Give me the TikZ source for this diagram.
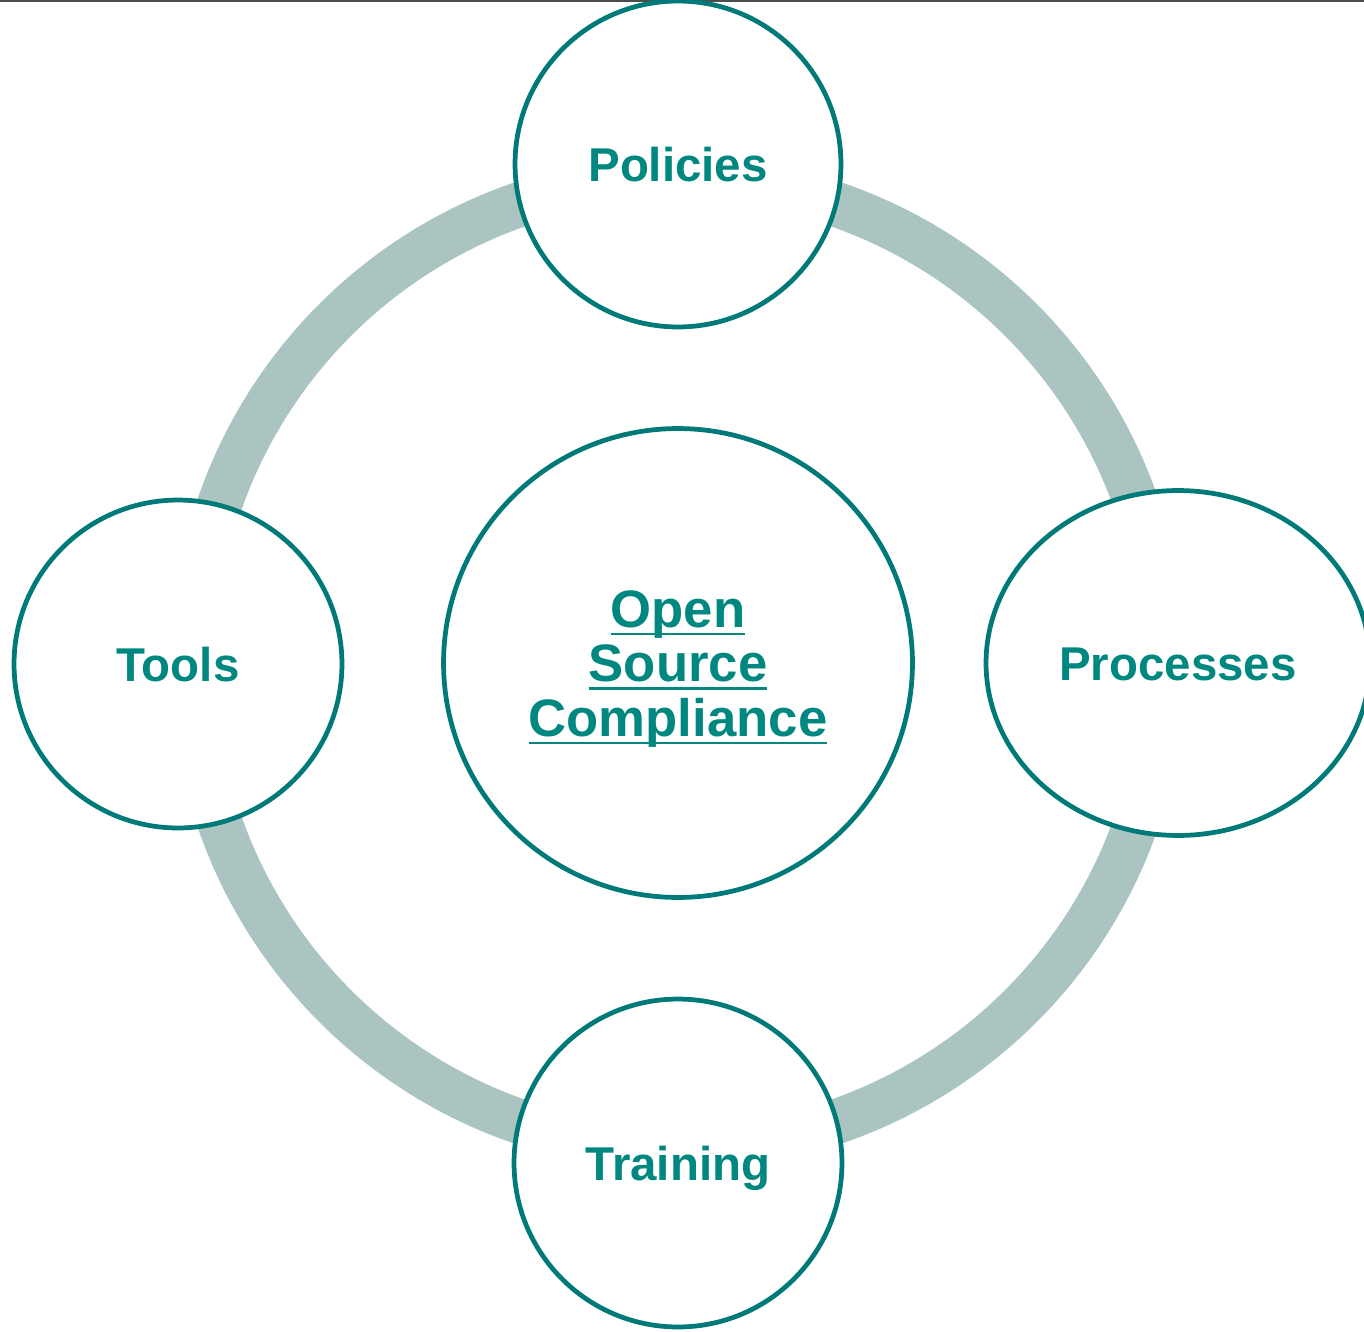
\documentclass[tikz,border=0pt]{standalone}
\usepackage{fontspec}
\setmainfont{Liberation Sans}
\usetikzlibrary{shapes.geometric}
\definecolor{tealline}{RGB}{0,122,120}
\definecolor{tealtext}{RGB}{0,135,128}
\definecolor{ringgray}{RGB}{170,196,194}
\newcommand\myul[1]{\setbox0\hbox{#1}\rlap{\rule[-4.6pt]{\wd0}{1.6pt}}\box0}
\tikzset{
  petal/.style={circle, draw=tealline, line width=2.7pt, fill=white, text=tealtext,
    font=\fontsize{27}{30}\selectfont\bfseries, text height=19.4pt, text depth=0pt, inner sep=0pt},
  hub/.style={circle, draw=tealline, line width=2.7pt, fill=white, text=tealtext,
    font=\fontsize{30}{31}\selectfont\bfseries, align=center, inner sep=0pt},
  ring/.style={draw=ringgray, line width=0.9cm}
}
\begin{document}
\begin{tikzpicture}[x=0.02cm,y=-0.02cm]
\useasboundingbox (0,0) rectangle (1364,1331);
\clip (0,0) rectangle (1364,1331);
\fill[white] (0,0) rectangle (1364,1331);
\coordinate (topL) at (0,1);
\coordinate (topR) at (1364,1);
\draw[line width=1.2pt, draw=black!70] (topL) -- (topR);
\coordinate (mid) at (678,663);
\draw[ring] (mid) circle (485);
\node[hub, minimum size=9.38cm] (center) at (678,663) {\rule{0pt}{27.6pt}\myul{Open}\\\myul{Source}\\\myul{Compliance}};
\node[petal, minimum size=6.52cm] (policies) at (678,164) {Policies};
\node[petal, minimum size=6.56cm] (tools) at (178,664) {Tools};
\node[petal, minimum size=6.56cm] (training) at (678,1163) {Training};
\node[petal, ellipse, minimum width=7.68cm, minimum height=6.9cm] (processes) at (1178,663) {Processes};
\end{tikzpicture}
\end{document}
